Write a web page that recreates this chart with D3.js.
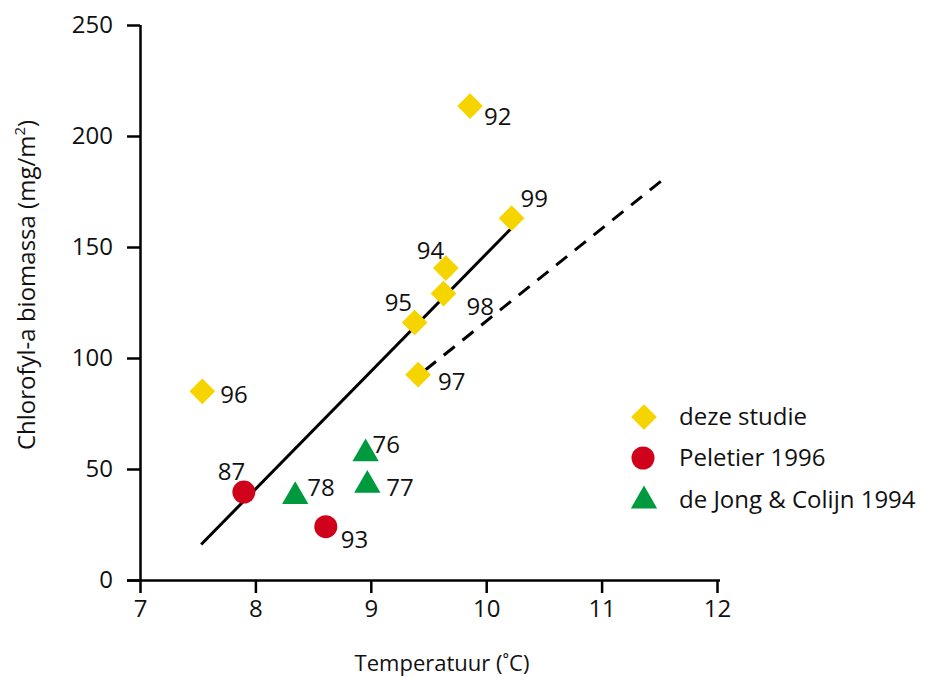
<!DOCTYPE html>
<html><head><meta charset="utf-8">
<script src="https://cdn.jsdelivr.net/npm/d3@7"></script>
<style>
body{margin:0;background:#fff;}
text{font-family:"Open Sans","Noto Sans",sans-serif;fill:#111;}
</style></head>
<body><svg id="c" width="929" height="677"></svg>
<script>
// Data
const xTicks = [7, 8, 9, 10, 11, 12];
const yTicks = [0, 50, 100, 150, 200, 250];
const dezeStudie = [
  {label:"92", x:9.86, y:213.5},
  {label:"99", x:10.22, y:163},
  {label:"94", x:9.65, y:140.5},
  {label:"98", x:9.63, y:129},
  {label:"95", x:9.38, y:116},
  {label:"97", x:9.41, y:92.5},
  {label:"96", x:7.54, y:85}
];
const peletier = [
  {label:"87", x:7.90, y:39.6},
  {label:"93", x:8.61, y:24}
];
const deJong = [
  {label:"78", x:8.345, y:39.4},
  {label:"76", x:8.955, y:58.6},
  {label:"77", x:8.97, y:44.4}
];
const solidFit = [{x:7.53, y:16}, {x:10.21, y:158}];
const dashedFit = [{x:9.47, y:94.5}, {x:11.56, y:181.5}];
const legendNames = ["deze studie", "Peletier 1996", "de Jong & Colijn 1994"];

// label offsets (px) relative to marker centre
const labelOffsets = {
  "92":[14,19],"99":[9,-11],"94":[-29,-9],"98":[23,21],"95":[-30,-11],
  "97":[20,15],"96":[18,12],"87":[-26,-12],"93":[15,21],
  "78":[12,3],"76":[7,3],"77":[19,15]
};

const svg = d3.select("#c");
const x = d3.scaleLinear().domain([7,12]).range([140,717]);
const y = d3.scaleLinear().domain([0,250]).range([580,25]);
const FS = "24px";

const xAxis = svg.append("g").attr("transform","translate(0,580)")
  .call(d3.axisBottom(x).tickValues(xTicks).tickFormat(d3.format("d")).tickSize(13).tickPadding(7).tickSizeOuter(0));
const yAxis = svg.append("g").attr("transform","translate(140,0)")
  .call(d3.axisLeft(y).tickValues(yTicks).tickFormat(d3.format("d")).tickSize(13).tickPadding(14).tickSizeOuter(0));
[xAxis,yAxis].forEach(g=>{
  g.select(".domain").attr("stroke","#000").attr("stroke-width",2.5);
  g.selectAll(".tick line").attr("stroke","#000").attr("stroke-width",2.5);
  g.selectAll(".tick text").style("font-size",FS).style("font-family",'"Open Sans",sans-serif').attr("fill","#111");
});
xAxis.select(".domain").attr("d","M127,0.5H720");
yAxis.select(".domain").attr("d","M0.5,"+y(250)+"V"+(y(0)));

svg.append("text").attr("x",442).attr("y",671).attr("text-anchor","middle")
  .style("font-size","22px").text("Temperatuur (˚C)");
svg.append("text").attr("transform","translate(35,285) rotate(-90)").attr("text-anchor","middle")
  .style("font-size",FS).html('Chlorofyl-a biomassa (mg/m<tspan baseline-shift="super" font-size="15px">2</tspan>)');

const line = d3.line().x(d=>x(d.x)).y(d=>y(d.y));
svg.append("path").datum(solidFit).attr("d",line).attr("stroke","#000").attr("stroke-width",3).attr("fill","none");
svg.append("path").datum(dashedFit).attr("d",line).attr("stroke","#000").attr("stroke-width",3)
  .attr("stroke-dasharray","14,10").attr("fill","none");

const yellow="#f5d400", red="#d0021b", green="#009a3e";
const diamond = d3.symbol().type(d3.symbolSquare).size(330);
const tri = d3.symbol().type(d3.symbolTriangle).size(300);

svg.selectAll(".dz").data(dezeStudie).join("path")
  .attr("d",diamond).attr("transform",d=>`translate(${x(d.x)},${y(d.y)}) rotate(45)`).attr("fill",yellow);
svg.selectAll(".pl").data(peletier).join("circle")
  .attr("cx",d=>x(d.x)).attr("cy",d=>y(d.y)).attr("r",11.5).attr("fill",red);
svg.selectAll(".dj").data(deJong).join("path")
  .attr("d",tri).attr("transform",d=>`translate(${x(d.x)},${y(d.y)+3.8})`).attr("fill",green);

const all = dezeStudie.concat(peletier, deJong);
svg.selectAll(".lbl").data(all).join("text")
  .attr("x",d=>x(d.x)+labelOffsets[d.label][0])
  .attr("y",d=>y(d.y)+labelOffsets[d.label][1])
  .style("font-size",FS).text(d=>d.label);

// legend
const lg = svg.append("g");
const lgY = [417, 458, 497];
lg.append("path").attr("d",diamond).attr("transform",`translate(644,${lgY[0]}) rotate(45)`).attr("fill",yellow);
lg.append("circle").attr("cx",643).attr("cy",lgY[1]).attr("r",11.5).attr("fill",red);
lg.append("path").attr("d",tri).attr("transform",`translate(644,${lgY[2]+3.8})`).attr("fill",green);
lg.selectAll("text").data(legendNames).join("text")
  .attr("x",679).attr("y",(d,i)=>[425,466,508][i]).style("font-size",FS).text(d=>d);
</script></body></html>
